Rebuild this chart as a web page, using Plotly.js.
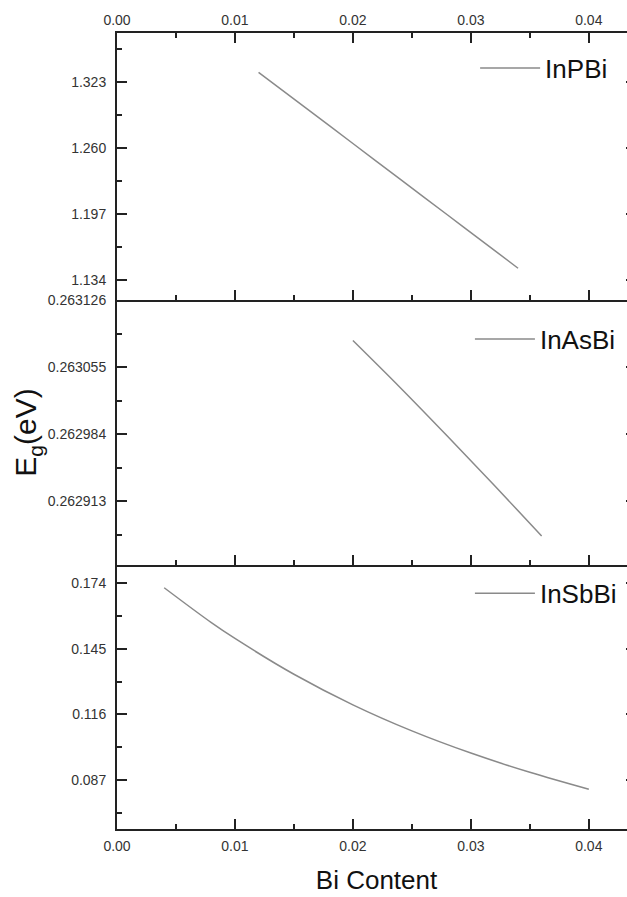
<!DOCTYPE html>
<html>
<head>
<meta charset="utf-8">
<script src="https://cdn.plot.ly/plotly-3.0.1.min.js"></script>
<style>
html, body { margin: 0; padding: 0; width: 627px; height: 897px; overflow: hidden; background: #fff; }
#chart { width: 660px; height: 897px; }
</style>
</head>
<body>
<div id="chart"></div>
<script>
// Bi content (x) and band gap Eg (eV) for each alloy
const inpbiX = [0.012, 0.016, 0.020, 0.024, 0.028, 0.032, 0.034];
const inpbiY = [1.3323, 1.2983, 1.2643, 1.2303, 1.1963, 1.1623, 1.1452];

const inasbiX = [0.020, 0.024, 0.028, 0.032, 0.036];
const inasbiY = [0.2630833, 0.2630335, 0.2629820, 0.2629295, 0.2628760];

const insbbiX = [0.004, 0.008, 0.010, 0.015, 0.020, 0.025, 0.030, 0.035, 0.040];
const insbbiY = [0.1719, 0.1565, 0.1495, 0.1337, 0.1202, 0.1087, 0.0989, 0.0904, 0.0829];

const seriesNames = ['InPBi', 'InAsBi', 'InSbBi'];
const xTitle = 'Bi Content';
const yTitle = 'E<sub>g</sub>(eV)';

const FONT = 'Liberation Sans, Arial, sans-serif';
const AX = '#222';
const LINE = '#8a8a8a';

function lineTrace(x, y, name, xa, ya, lg) {
  return { x: x, y: y, name: name, type: 'scatter', mode: 'lines',
           xaxis: xa, yaxis: ya, legend: lg,
           line: { color: LINE, width: 1.5, shape: 'spline', smoothing: 1 } };
}

const data = [
  lineTrace(inpbiX, inpbiY, seriesNames[0], 'x3', 'y3', 'legend'),
  lineTrace(inasbiX, inasbiY, seriesNames[1], 'x2', 'y2', 'legend2'),
  lineTrace(insbbiX, insbbiY, seriesNames[2], 'x', 'y', 'legend3')
];

function xAxis(extra) {
  return Object.assign({
    range: [0, 0.044], tickmode: 'linear', tick0: 0, dtick: 0.01, tickformat: '.2f',
    ticks: 'inside', ticklen: 10, tickwidth: 2, tickcolor: AX,
    minor: { ticks: 'inside', dtick: 0.005, tick0: 0, ticklen: 5, tickwidth: 2, tickcolor: AX },
    showline: true, linewidth: 2, linecolor: AX, mirror: false,
    showgrid: false, zeroline: false,
    tickfont: { family: FONT, size: 14, color: '#333' }
  }, extra);
}
function yAxis(extra) {
  return Object.assign({
    tickmode: 'linear',
    ticks: 'inside', ticklen: 10, tickwidth: 2, tickcolor: AX,
    showline: true, linewidth: 2, linecolor: AX, mirror: 'ticks',
    showgrid: false, zeroline: false, ticklabelstandoff: 6,
    tickfont: { family: FONT, size: 14, color: '#333' }
  }, extra);
}
function minorY(t0, dt) {
  return { ticks: 'inside', tick0: t0, dtick: dt, ticklen: 5, tickwidth: 2, tickcolor: AX };
}

const legendBase = { bgcolor: 'rgba(0,0,0,0)', borderwidth: 0, xanchor: 'left', yanchor: 'middle',
                     itemwidth: 60,
                     font: { family: FONT, size: 26, color: '#111' } };

const layout = {
  width: 660, height: 897,
  margin: { l: 117, r: 24, t: 33, b: 68 },
  paper_bgcolor: '#fff', plot_bgcolor: '#fff',
  showlegend: true,
  xaxis: xAxis({ anchor: 'y', ticklabelstandoff: 3,
                 title: { text: xTitle, font: { family: FONT, size: 26, color: '#111' }, standoff: 18 } }),
  xaxis2: xAxis({ anchor: 'y2', matches: 'x', showticklabels: false }),
  xaxis3: xAxis({ anchor: 'y3', matches: 'x', side: 'top', mirror: 'ticks' }),
  yaxis: yAxis({ domain: [0, 264 / 796], range: [0.06537, 0.18195], tick0: 0.087, dtick: 0.029, tickformat: '.3f',
                 minor: minorY(0.087, 0.0145) }),
  yaxis2: yAxis({ domain: [264 / 796, 529 / 796], range: [0.2628452, 0.2631262], tick0: 0.262913, dtick: 0.000071, tickformat: '.6f',
                  minor: minorY(0.262913, 0.0000355),
                  title: { text: yTitle, font: { family: FONT, size: 30, color: '#111' }, standoff: 2 } }),
  yaxis3: yAxis({ domain: [529 / 796, 1], range: [1.1149, 1.3698], tick0: 1.134, dtick: 0.063, tickformat: '.3f',
                  minor: minorY(1.134, 0.0315) }),
  legend: Object.assign({}, legendBase, { x: 0.69, y: 0.956 }),
  legend2: Object.assign({}, legendBase, { x: 0.68, y: 0.6156 }),
  legend3: Object.assign({}, legendBase, { x: 0.68, y: 0.296 })
};

Plotly.newPlot('chart', data, layout, { displayModeBar: false, staticPlot: true });
</script>
</body>
</html>
